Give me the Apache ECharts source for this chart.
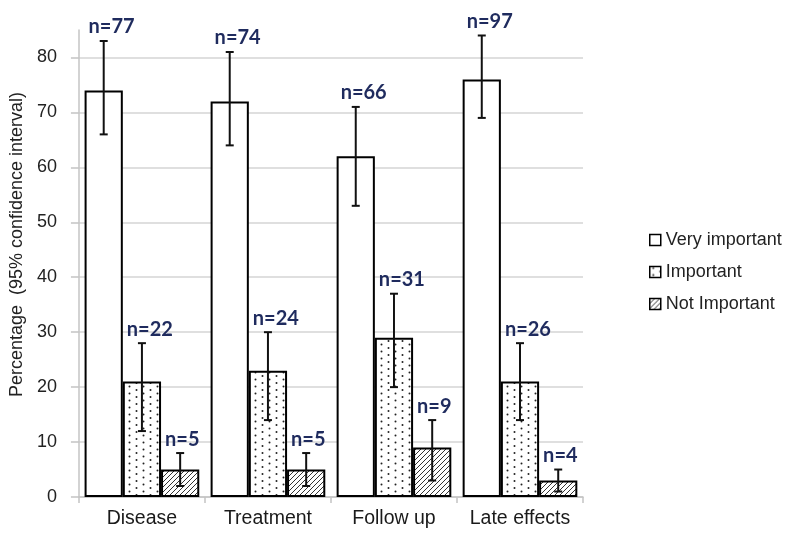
<!DOCTYPE html>
<html>
<head>
<meta charset="utf-8">
<script src="https://cdn.jsdelivr.net/npm/echarts@6/dist/echarts.min.js"></script>
<style>
html,body{margin:0;padding:0;background:#fff;}
#chart{width:800px;height:543px;}
</style>
</head>
<body>
<div id="chart"></div>
<script>
// ---- data ----
const categories = ['Disease', 'Treatment', 'Follow up', 'Late effects'];
const seriesNames = ['Very important', 'Important', 'Not Important'];
const veryImportant = [74, 72, 62, 76];
const important = [21, 23, 29, 21];
const notImportant = [5, 5, 9, 3];
const veryImportantLow = [66, 64, 53, 69];
const veryImportantHigh = [83, 81, 71, 84];
const importantLow = [12, 14, 20, 14];
const importantHigh = [28, 30, 37, 28];
const notImportantLow = [2, 2, 3, 1];
const notImportantHigh = [8, 8, 14, 5];
const veryImportantN = [77, 74, 66, 97];
const importantN = [22, 24, 31, 26];
const notImportantN = [5, 5, 9, 4];
const yTicks = [0, 10, 20, 30, 40, 50, 60, 70, 80];

// ---- patterns ----
function dotPattern() {
  const c = document.createElement('canvas');
  c.width = 14; c.height = 7;
  const g = c.getContext('2d');
  g.fillStyle = '#fff'; g.fillRect(0, 0, 14, 7);
  g.fillStyle = '#222';
  g.beginPath(); g.arc(3.5, 1.5, 1, 0, Math.PI * 2); g.fill();
  g.beginPath(); g.arc(10.5, 5, 1, 0, Math.PI * 2); g.fill();
  return c;
}
function hatchPattern() {
  const s = 5;
  const c = document.createElement('canvas');
  c.width = s; c.height = s;
  const g = c.getContext('2d');
  g.fillStyle = '#fff'; g.fillRect(0, 0, s, s);
  g.strokeStyle = '#333'; g.lineWidth = 1;
  g.beginPath();
  g.moveTo(-1, s + 1); g.lineTo(s + 1, -1);
  g.moveTo(-1, 1); g.lineTo(1, -1);
  g.moveTo(s - 1, s + 1); g.lineTo(s + 1, s - 1);
  g.stroke();
  return c;
}

const fills = ['#ffffff', { image: dotPattern(), repeat: 'repeat' }, { image: hatchPattern(), repeat: 'repeat' }];
const values = [veryImportant, important, notImportant];
const lows = [veryImportantLow, importantLow, notImportantLow];
const highs = [veryImportantHigh, importantHigh, notImportantHigh];
const ns = [veryImportantN, importantN, notImportantN];
const CAT_GAP = 0.09;

const errData = [];
for (let k = 0; k < 3; k++) {
  for (let i = 0; i < categories.length; i++) {
    errData.push([i, lows[k][i], highs[k][i], k, ns[k][i]]);
  }
}

const chart = echarts.init(document.getElementById('chart'), null, { renderer: 'canvas' });

const barSeries = seriesNames.map((name, k) => ({
  name: name,
  type: 'bar',
  data: values[k],
  barGap: '0%',
  barCategoryGap: (CAT_GAP * 100) + '%',
  itemStyle: { color: fills[k], borderColor: '#000', borderWidth: 2 },
  emphasis: { disabled: true },
  z: 2
}));

const errSeries = {
  type: 'custom',
  data: errData,
  z: 5,
  silent: true,
  renderItem: function (params, api) {
    const cat = api.value(0), lo = api.value(1), hi = api.value(2), k = api.value(3), n = api.value(4);
    const bandW = api.size([1, 0])[0];
    const barW = bandW * (1 - CAT_GAP) / 3;
    const cx = api.coord([cat, 0])[0] + (k - 1) * barW;
    const yLo = api.coord([cat, lo])[1];
    const yHi = api.coord([cat, hi])[1];
    const cap = 4;
    const ls = { stroke: '#111', lineWidth: 2 };
    return {
      type: 'group',
      children: [
        { type: 'line', shape: { x1: cx, y1: yLo, x2: cx, y2: yHi }, style: ls },
        { type: 'line', shape: { x1: cx - cap, y1: yLo, x2: cx + cap, y2: yLo }, style: ls },
        { type: 'line', shape: { x1: cx - cap, y1: yHi, x2: cx + cap, y2: yHi }, style: ls },
        {
          type: 'text',
          style: {
            text: 'n=' + n,
            x: cx - barW / 2 + 4,
            y: yHi - 4,
            align: 'left', verticalAlign: 'bottom',
            textAlign: 'left', textVerticalAlign: 'bottom',
            fill: '#1f2b5e',
            font: 'bold 20px Lato, "Open Sans", sans-serif'
          }
        }
      ]
    };
  }
};

chart.setOption({
  animation: false,
  backgroundColor: '#ffffff',
  grid: { left: 77, right: 217, top: 30, bottom: 46 },
  legend: {
    orient: 'vertical',
    left: 644,
    top: 226,
    itemWidth: 11,
    itemHeight: 11,
    itemGap: 14,
    icon: 'rect',
    selectedMode: false,
    data: seriesNames,
    itemStyle: { borderColor: '#000', borderWidth: 1.5 },
    textStyle: { fontFamily: 'Liberation Sans, Arial, sans-serif', fontSize: 18, color: '#222' }
  },
  xAxis: {
    type: 'category',
    data: categories,
    axisLine: { show: true, lineStyle: { color: '#c4c4c4', width: 1.5 } },
    axisTick: { show: true, length: 6, lineStyle: { color: '#c4c4c4', width: 1.5 } },
    axisLabel: { interval: 0, margin: 12, fontFamily: 'Liberation Sans, Arial, sans-serif', fontSize: 19.5, color: '#1a1a1a' },
    splitLine: { show: false }
  },
  yAxis: {
    type: 'value',
    min: 0,
    max: 85,
    interval: 10,
    name: 'Percentage  (95% confidence interval)',
    nameLocation: 'middle',
    nameGap: 44,
    nameTextStyle: { fontFamily: 'Liberation Sans, Arial, sans-serif', fontSize: 18, color: '#222', padding: [0, 0, 0, 38] },
    axisLine: { show: true, lineStyle: { color: '#c4c4c4', width: 1.5 } },
    axisTick: { show: true, length: 8, customValues: yTicks, lineStyle: { color: '#c4c4c4', width: 1.5 } },
    axisLabel: { margin: 22, customValues: yTicks, fontFamily: 'Liberation Sans, Arial, sans-serif', fontSize: 18, color: '#222' },
    splitLine: { show: true, lineStyle: { color: '#d4d4d4', width: 1.5 } }
  },
  series: barSeries.concat([errSeries])
});
</script>
</body>
</html>
